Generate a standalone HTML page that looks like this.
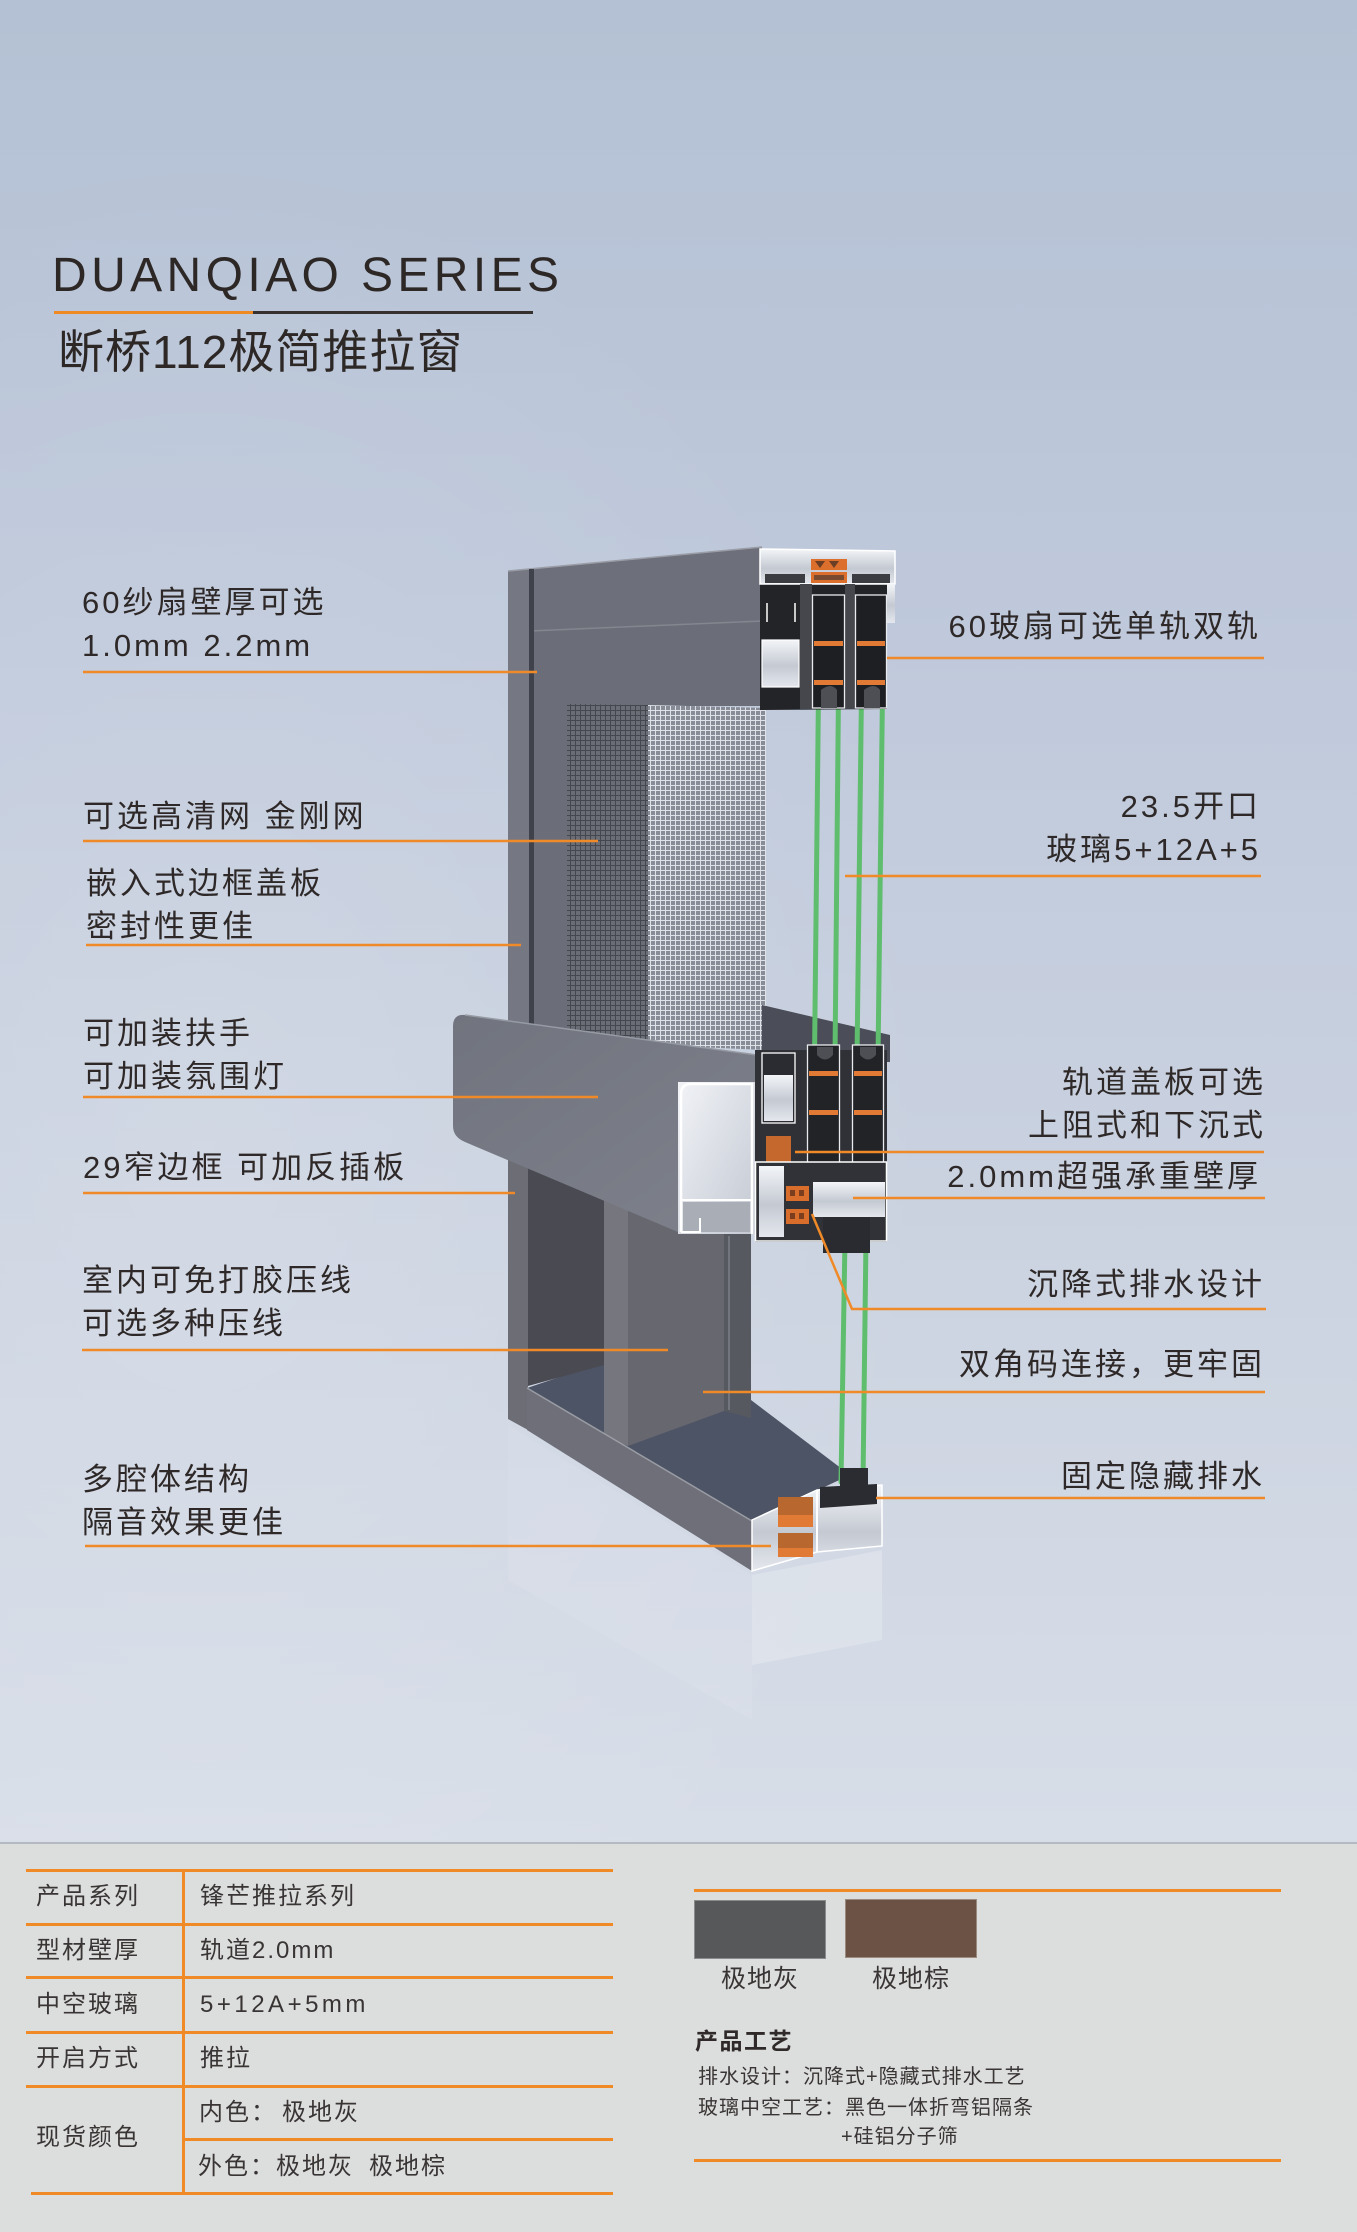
<!DOCTYPE html>
<html><head><meta charset="utf-8">
<style>
*{margin:0;padding:0;box-sizing:border-box}
html,body{width:1357px;height:2232px;overflow:hidden}
body{position:relative;background:#c6cedd;font-family:"Liberation Sans","Noto Sans CJK SC",sans-serif;color:#2e2928}
.t{position:absolute;white-space:nowrap}
.lb{font-size:31px;line-height:43px;letter-spacing:3px}
.r{text-align:right}
.hl{position:absolute;height:3px;background:#ef8a26}
.tb{font-size:24px;line-height:24px;letter-spacing:2px;color:#3a3535}
.sm{font-size:20px;line-height:22px;letter-spacing:1px;color:#3a3535}
</style></head><body>
<svg style="position:absolute;left:0;top:0" width="1357" height="1843" viewBox="0 0 1357 1843">
<defs>
<linearGradient id="bgG" x1="0" y1="0" x2="0" y2="1">
<stop offset="0" stop-color="#b4c1d4"/>
<stop offset="0.35" stop-color="#bfc9db"/>
<stop offset="0.65" stop-color="#cad2e0"/>
<stop offset="1" stop-color="#d8dee8"/>
</linearGradient>
<radialGradient id="glow" cx="0.15" cy="0.62" r="0.55">
<stop offset="0" stop-color="#ffffff" stop-opacity="0.16"/>
<stop offset="1" stop-color="#ffffff" stop-opacity="0"/>
</radialGradient>
<pattern id="meshD" width="5" height="5" patternUnits="userSpaceOnUse">
<rect width="5" height="5" fill="#6a6d76"/>
<rect width="5" height="1" fill="#44474e"/>
<rect width="1" height="5" fill="#44474e"/>
</pattern>
<pattern id="meshL" width="5" height="5" patternUnits="userSpaceOnUse">
<rect width="5" height="5" fill="#888c96"/>
<rect width="5" height="1" fill="#dfe2e8"/>
<rect width="1" height="5" fill="#dfe2e8"/>
</pattern>
<linearGradient id="aluV" x1="0" y1="0" x2="0" y2="1">
<stop offset="0" stop-color="#f3f5f8"/>
<stop offset="0.55" stop-color="#c4c9d2"/>
<stop offset="1" stop-color="#e4e7ed"/>
</linearGradient>
<linearGradient id="uG" x1="0" y1="0" x2="1" y2="1">
<stop offset="0" stop-color="#f1f3f7"/>
<stop offset="1" stop-color="#c3c8d2"/>
</linearGradient>
<linearGradient id="boxG" x1="0" y1="0" x2="1" y2="1">
<stop offset="0" stop-color="#71747e"/>
<stop offset="1" stop-color="#7e818b"/>
</linearGradient>
</defs>
<rect width="1357" height="1843" fill="url(#bgG)"/>
<rect width="1357" height="1843" fill="url(#glow)"/>

<!-- reflection -->
<polygon points="508,1425 752,1575 752,1720 508,1580" fill="#ffffff" opacity="0.08"/>
<polygon points="752,1575 882,1550 882,1640 752,1665" fill="#ffffff" opacity="0.22"/>

<!-- upper frame -->
<polygon points="508,571 530,569 530,1030 508,1030" fill="#757882"/>
<polygon points="530,569 762,547 762,621 530,631" fill="#6d707a"/>
<line x1="508" y1="571" x2="762" y2="547" stroke="#9a9da6" stroke-width="1.5"/>
<polygon points="530,631 762,621 762,706 567,706 567,1035 530,1035" fill="#6b6e78"/>
<line x1="530" y1="631" x2="762" y2="621" stroke="#83868f" stroke-width="1.5"/>
<rect x="529" y="569" width="5" height="465" fill="#3f424a"/>
<polygon points="567,704 648,705 648,1045 567,1045" fill="url(#meshD)"/>
<polygon points="648,705 766,708 766,1050 648,1045" fill="url(#meshL)"/>
<polygon points="762,1005 890,1035 890,1062 762,1062" fill="#4b4e58"/>

<!-- lower structure -->
<polygon points="508,1130 528,1130 528,1430 508,1419" fill="#6c6d75"/>
<polygon points="527,1388 604,1362 751,1400 850,1475 752,1521" fill="#4d5465"/>
<polygon points="528,1160 604,1160 604,1365 528,1386" fill="#4a4a52"/>
<polygon points="604,1160 628,1160 628,1446 604,1436" fill="#76767e"/>
<polygon points="628,1160 724,1160 724,1411 628,1446" fill="#66676f"/>
<polygon points="724,1160 751,1160 751,1418 724,1411" fill="#575961"/>
<line x1="729" y1="1236" x2="729" y2="1410" stroke="#7d7f87" stroke-width="1.5"/>
<polygon points="527,1388 752,1521 752,1571 527,1430" fill="#6e6f78"/>
<line x1="527" y1="1388" x2="752" y2="1521" stroke="#9a9ca4" stroke-width="1.5"/>

<!-- handle box -->
<path d="M453,1026 Q453,1014 465,1015 L757,1055 L757,1084 L678,1084 L678,1232 L465,1142 Q453,1137 453,1126 Z" fill="url(#boxG)"/>
<line x1="465" y1="1015" x2="757" y2="1055" stroke="#969aa3" stroke-width="1.5"/>
<rect x="678" y="1082" width="77" height="152" fill="url(#uG)"/>
<rect x="683" y="1202" width="67" height="30" fill="#a9adb6"/>
<path d="M681,1232 L681,1094 Q681,1084 691,1084 L752,1084 L752,1234" fill="none" stroke="#ffffff" stroke-width="2.5"/>
<line x1="681" y1="1200" x2="752" y2="1200" stroke="#ffffff" stroke-width="2"/>
<path d="M681,1232 L700,1232 L700,1218" fill="none" stroke="#ffffff" stroke-width="2"/>

<!-- glass -->
<g stroke="#5fbd6e" stroke-width="5" stroke-linecap="round">
<line x1="818.5" y1="692" x2="814.5" y2="1058"/>
<line x1="838.5" y1="692" x2="835" y2="1058"/>
<line x1="861.5" y1="692" x2="857" y2="1058"/>
<line x1="882.5" y1="692" x2="878" y2="1058"/>
<line x1="845" y1="1238" x2="841" y2="1482"/>
<line x1="866" y1="1238" x2="863" y2="1482"/>
</g>

<!-- top cross-section -->
<polygon points="760,549 895,551 895,623 887,623 887,709 760,710" fill="#232428"/>
<polygon points="760,549 895,551 895,584 760,584" fill="url(#aluV)" stroke="#ffffff" stroke-width="1.5"/>
<rect x="765" y="574" width="40" height="9" fill="#3b3d43"/>
<rect x="852" y="574" width="38" height="9" fill="#3b3d43"/>
<rect x="811" y="559" width="36" height="11" fill="#dc6f2c"/>
<rect x="811" y="572" width="36" height="11" fill="#dc6f2c"/>
<path d="M815,561 l5,7 l5,-7z M829,561 l5,7 l5,-7z" fill="#6a3e24"/>
<rect x="814" y="575" width="30" height="5" fill="#7a4a2e"/>
<rect x="762" y="640" width="37" height="47" fill="url(#aluV)" stroke="#ffffff" stroke-width="1.2"/>
<line x1="767" y1="603" x2="767" y2="622" stroke="#fff" stroke-width="1.5"/>
<line x1="795" y1="603" x2="795" y2="622" stroke="#fff" stroke-width="1.5"/>
<rect x="800" y="584" width="12" height="125" fill="#45474d"/>
<rect x="845" y="584" width="10" height="125" fill="#45474d"/>
<rect x="812.5" y="595" width="32" height="113" fill="#1e1f23" stroke="#e8eaee" stroke-width="1.3"/>
<rect x="855.5" y="595" width="31" height="113" fill="#1e1f23" stroke="#e8eaee" stroke-width="1.3"/>
<rect x="814" y="641" width="29" height="5" fill="#e07a35"/>
<rect x="814" y="680" width="29" height="5" fill="#e07a35"/>
<rect x="857" y="641" width="28" height="5" fill="#e07a35"/>
<rect x="857" y="680" width="28" height="5" fill="#e07a35"/>
<path d="M821,690 q10,-8 16,0 v18 h-16z" fill="#4d4f55"/>
<path d="M864,690 q10,-8 16,0 v18 h-16z" fill="#4d4f55"/>
<rect x="887" y="584" width="8" height="39" fill="url(#aluV)"/>

<!-- middle cross-section -->
<rect x="755" y="1050" width="132" height="192" fill="#2f3136"/>
<rect x="762" y="1053" width="33" height="70" fill="#2a2c31" stroke="#ffffff" stroke-width="1.3"/>
<rect x="764" y="1075" width="29" height="46" fill="url(#aluV)"/>
<rect x="766" y="1136" width="25" height="32" fill="#c4682d"/>
<rect x="807.5" y="1045" width="32" height="122" fill="#222327" stroke="#e8eaee" stroke-width="1.3"/>
<rect x="852.5" y="1045" width="31" height="122" fill="#222327" stroke="#e8eaee" stroke-width="1.3"/>
<rect x="809" y="1071" width="29" height="5" fill="#e07a35"/>
<rect x="809" y="1110" width="29" height="5" fill="#e07a35"/>
<rect x="854" y="1071" width="28" height="5" fill="#e07a35"/>
<rect x="854" y="1110" width="28" height="5" fill="#e07a35"/>
<path d="M817,1047 h16 v8 q-8,9 -16,0z" fill="#4d4f55"/>
<path d="M860,1047 h16 v8 q-8,9 -16,0z" fill="#4d4f55"/>
<rect x="755.5" y="1162" width="131" height="79" fill="#303237" stroke="#ffffff" stroke-width="1.5"/>
<rect x="759" y="1166" width="25" height="71" fill="url(#aluV)"/>
<rect x="786" y="1186" width="23" height="15" fill="#d86d2c"/>
<rect x="786" y="1209" width="23" height="15" fill="#d86d2c"/>
<rect x="790" y="1190" width="5" height="6" fill="#7a3e1e"/>
<rect x="799" y="1190" width="5" height="6" fill="#7a3e1e"/>
<rect x="790" y="1213" width="5" height="6" fill="#7a3e1e"/>
<rect x="799" y="1213" width="5" height="6" fill="#7a3e1e"/>
<rect x="813" y="1182" width="72" height="35" fill="url(#aluV)"/>
<rect x="823" y="1217" width="47" height="36" fill="#2a2b30"/>

<!-- bottom cross-section -->
<polygon points="752,1520 817,1490 882,1485 882,1546 817,1552 752,1571" fill="url(#aluV)" stroke="#ffffff" stroke-width="1.5"/>
<polygon points="820,1487 877,1484 877,1504 820,1508" fill="#2b2c31"/>
<rect x="840" y="1468" width="28" height="20" fill="#2b2c31"/>
<rect x="778" y="1497" width="35" height="20" fill="#b8672f"/>
<rect x="778" y="1515" width="35" height="12" fill="#e07a35"/>
<rect x="778" y="1533" width="35" height="16" fill="#b8672f"/>
<rect x="778" y="1548" width="35" height="9" fill="#e07a35"/>
<line x1="817" y1="1490" x2="817" y2="1552" stroke="#ffffff" stroke-width="2"/>

<!-- connector lines -->
<g stroke="#f08a28" stroke-width="2.5" fill="none">
<line x1="83" y1="672" x2="537" y2="672"/>
<line x1="83" y1="841" x2="598" y2="841"/>
<line x1="86" y1="945" x2="521" y2="945"/>
<line x1="83" y1="1097" x2="598" y2="1097"/>
<line x1="83" y1="1193" x2="515" y2="1193"/>
<line x1="82" y1="1350" x2="668" y2="1350"/>
<line x1="85" y1="1546" x2="771" y2="1546"/>
<line x1="887" y1="658" x2="1264" y2="658"/>
<line x1="845" y1="876" x2="1261" y2="876"/>
<line x1="795" y1="1152" x2="1264" y2="1152"/>
<line x1="853" y1="1198" x2="1265" y2="1198"/>
<polyline points="812,1214 852,1309 1266,1309"/>
<line x1="703" y1="1392" x2="1265" y2="1392"/>
<line x1="876" y1="1498" x2="1265" y2="1498"/>
</g>
</svg>

<!-- title -->
<div class="t" style="left:52px;top:252px;font-size:48px;line-height:48px;letter-spacing:4.4px;color:#2d2826">DUANQIAO SERIES</div>
<div style="position:absolute;left:54px;top:311px;width:199px;height:3px;background:#ef8a22"></div>
<div style="position:absolute;left:253px;top:311px;width:280px;height:3px;background:#36302e"></div>
<div class="t" style="left:58px;top:329px;font-size:46px;line-height:46px;letter-spacing:1px;color:#2d2826">断桥112极简推拉窗</div>

<!-- left labels -->
<div class="t lb" style="left:82px;top:581px">60纱扇壁厚可选<br>1.0mm 2.2mm</div>
<div class="t lb" style="left:83px;top:795px">可选高清网 金刚网</div>
<div class="t lb" style="left:86px;top:862px">嵌入式边框盖板<br>密封性更佳</div>
<div class="t lb" style="left:83px;top:1012px">可加装扶手<br>可加装氛围灯</div>
<div class="t lb" style="left:83px;top:1146px">29窄边框 可加反插板</div>
<div class="t lb" style="left:82px;top:1259px">室内可免打胶压线<br>可选多种压线</div>
<div class="t lb" style="left:82px;top:1458px">多腔体结构<br>隔音效果更佳</div>

<!-- right labels -->
<div class="t lb r" style="right:96px;top:605px">60玻扇可选单轨双轨</div>
<div class="t lb r" style="right:96px;top:785px">23.5开口<br>玻璃5+12A+5</div>
<div class="t lb r" style="right:91px;top:1061px">轨道盖板可选<br>上阻式和下沉式</div>
<div class="t lb r" style="right:96px;top:1155px">2.0mm超强承重壁厚</div>
<div class="t lb r" style="right:92px;top:1263px">沉降式排水设计</div>
<div class="t lb r" style="right:92px;top:1343px">双角码连接，更牢固</div>
<div class="t lb r" style="right:92px;top:1455px">固定隐藏排水</div>

<!-- bottom panel -->
<div style="position:absolute;left:0;top:1842px;width:1357px;height:390px;background:#dcdedd;border-top:2px solid #b4b9c2"></div>

<div class="hl" style="left:26px;top:1869px;width:587px"></div>
<div class="hl" style="left:26px;top:1923px;width:587px"></div>
<div class="hl" style="left:26px;top:1976px;width:587px"></div>
<div class="hl" style="left:26px;top:2031px;width:587px"></div>
<div class="hl" style="left:26px;top:2085px;width:587px"></div>
<div class="hl" style="left:183px;top:2138px;width:430px"></div>
<div class="hl" style="left:31px;top:2192px;width:582px"></div>
<div style="position:absolute;left:182px;top:1869px;width:3px;height:325px;background:#ef8a26"></div>

<div class="t tb" style="left:36px;top:1885px">产品系列</div>
<div class="t tb" style="left:200px;top:1885px">锋芒推拉系列</div>
<div class="t tb" style="left:36px;top:1939px">型材壁厚</div>
<div class="t tb" style="left:200px;top:1939px">轨道2.0mm</div>
<div class="t tb" style="left:36px;top:1993px">中空玻璃</div>
<div class="t tb" style="left:200px;top:1993px;letter-spacing:3.5px">5+12A+5mm</div>
<div class="t tb" style="left:36px;top:2047px">开启方式</div>
<div class="t tb" style="left:200px;top:2047px">推拉</div>
<div class="t tb" style="left:36px;top:2126px">现货颜色</div>
<div class="t tb" style="left:199px;top:2101px">内色：</div>
<div class="t tb" style="left:282px;top:2101px">极地灰</div>
<div class="t tb" style="left:198px;top:2155px">外色：</div>
<div class="t tb" style="left:276px;top:2155px">极地灰</div>
<div class="t tb" style="left:369px;top:2155px">极地棕</div>

<!-- right side of panel -->
<div class="hl" style="left:694px;top:1889px;width:587px"></div>
<div style="position:absolute;left:694px;top:1900px;width:132px;height:59px;background:#57585a;border:1px solid #8a8b8c"></div>
<div style="position:absolute;left:845px;top:1899px;width:132px;height:59px;background:#6b5244;border:1px solid #9a8a80"></div>
<div class="t" style="left:721px;top:1967px;font-size:25px;line-height:25px;letter-spacing:1px;color:#3a3535">极地灰</div>
<div class="t" style="left:872px;top:1967px;font-size:25px;line-height:25px;letter-spacing:1px;color:#3a3535">极地棕</div>
<div class="t" style="left:695px;top:2029px;font-size:23px;line-height:24px;letter-spacing:1.5px;font-weight:bold;color:#2f2a29">产品工艺</div>
<div class="t sm" style="left:698px;top:2066px">排水设计：沉降式+隐藏式排水工艺</div>
<div class="t sm" style="left:698px;top:2097px">玻璃中空工艺：黑色一体折弯铝隔条</div>
<div class="t sm" style="left:841px;top:2126px">+硅铝分子筛</div>
<div class="hl" style="left:694px;top:2159px;width:587px"></div>
</body></html>
